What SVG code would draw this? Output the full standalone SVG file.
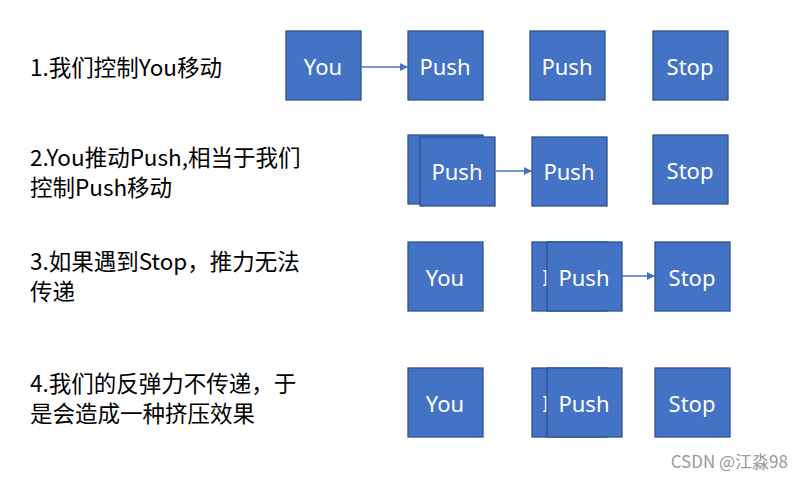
<svg xmlns="http://www.w3.org/2000/svg" width="803" height="480" viewBox="0 0 803 480">
<style>
.b{fill:#4472C4;stroke:#2F528F;stroke-width:1.3}
.t{fill:#fff;font-family:"Noto Sans","Noto Sans CJK SC",sans-serif;font-size:22px;text-anchor:middle;dominant-baseline:central}
.l{fill:#000;font-family:"Noto Sans CJK SC",sans-serif;font-size:22.5px}
.c{stroke:#4472C4;stroke-width:1.3;fill:none;marker-end:url(#a)}
</style>
<defs><marker id="a" markerWidth="8" markerHeight="8" refX="8" refY="4" orient="auto" markerUnits="userSpaceOnUse"><path d="M0,0L8,4L0,8z" fill="#4472C4"/></marker></defs>
<rect width="803" height="480" fill="#fff"/>
<g id="labels">
<text class="l" x="30" y="76">1.我们控制You移动</text>
<text class="l" x="30" y="166">2.You推动Push,相当于我们</text>
<text class="l" x="30" y="196">控制Push移动</text>
<text class="l" x="30" y="270">3.如果遇到Stop，推力无法</text>
<text class="l" x="30" y="300">传递</text>
<text class="l" x="30" y="392">4.我们的反弹力不传递，于</text>
<text class="l" x="30" y="422">是会造成一种挤压效果</text>
<text x="788" y="468" text-anchor="end" font-family="Noto Sans CJK SC,sans-serif" font-size="17" fill="#999">CSDN @江淼98</text>
</g>
<g id="r1">
<g id="r1you"><rect class="b" x="286" y="31" width="75" height="69"/><text class="t" x="323" y="66">You</text></g>
<g id="r1push1"><rect class="b" x="408" y="31" width="75" height="69"/><text class="t" x="445" y="66">Push</text></g>
<g id="r1push2"><rect class="b" x="530" y="31" width="75" height="69"/><text class="t" x="567" y="66">Push</text></g>
<g id="r1stop"><rect class="b" x="653" y="31" width="75" height="69"/><text class="t" x="690" y="66">Stop</text></g>
</g>
<g id="r2">
<g id="r2you"><rect class="b" x="408" y="135" width="75" height="69"/></g>
<g id="r2push1"><rect class="b" x="420" y="137" width="75" height="69"/><text class="t" x="457" y="171">Push</text></g>
<g id="r2push2"><rect class="b" x="532" y="137" width="75" height="69"/><text class="t" x="569" y="171">Push</text></g>
<g id="r2stop"><rect class="b" x="653" y="135" width="75" height="69"/><text class="t" x="690" y="170">Stop</text></g>
</g>
<g id="r3">
<g id="r3you"><rect class="b" x="408" y="242" width="75" height="69"/><text class="t" x="445" y="277">You</text></g>
<g id="r3pushb"><rect class="b" x="532" y="242" width="75" height="69"/><text class="t" x="546" y="277">I</text></g>
<g id="r3push"><rect class="b" x="547" y="242" width="75" height="69"/><text class="t" x="584" y="277">Push</text></g>
<g id="r3stop"><rect class="b" x="655" y="242" width="75" height="69"/><text class="t" x="692" y="277">Stop</text></g>
</g>
<g id="r4">
<g id="r4you"><rect class="b" x="408" y="368" width="75" height="69"/><text class="t" x="445" y="403">You</text></g>
<g id="r4pushb"><rect class="b" x="532" y="368" width="75" height="69"/><text class="t" x="546" y="403">I</text></g>
<g id="r4push"><rect class="b" x="547" y="368" width="75" height="69"/><text class="t" x="584" y="403">Push</text></g>
<g id="r4stop"><rect class="b" x="655" y="368" width="75" height="69"/><text class="t" x="692" y="403">Stop</text></g>
</g>
<g id="connectors">
<path class="c" d="M361,67H408"/>
<path class="c" d="M495,171H532"/>
<path class="c" d="M622,276H655"/>
</g>
</svg>
